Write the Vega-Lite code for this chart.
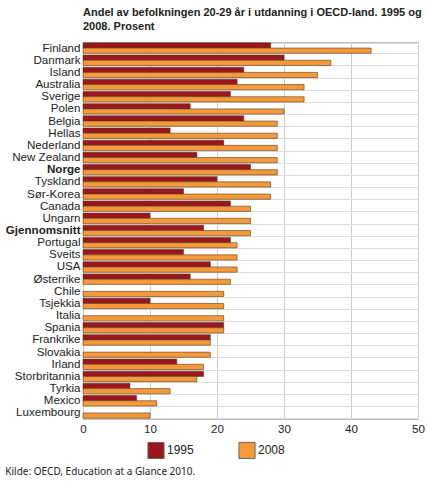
{
  "$schema": "https://vega.github.io/schema/vega-lite/v6.json",
  "padding": {"left": 4, "top": 6, "right": 6, "bottom": 0},
  "background": "white",
  "title": {
    "text": ["Andel av befolkningen 20-29 år i utdanning i OECD-land. 1995 og", "2008. Prosent"],
    "anchor": "start",
    "font": "Liberation Sans",
    "fontSize": 11,
    "fontWeight": "bold",
    "lineHeight": 14,
    "color": "#222",
    "offset": 4,
    "frame": "group"
  },
  "config": {
    "view": {"stroke": "#bbbbbb", "strokeWidth": 1},
    "font": "Liberation Sans",
    "concat": {"spacing": 0}
  },
  "vconcat": [
    {
      "width": 335,
      "height": 377,
      "title": {
        "text": "Kilde: OECD, Education at a Glance 2010.",
        "orient": "bottom",
        "anchor": "start",
        "frame": "bounds",
        "font": "Noto Sans",
        "fontSize": 10,
        "fontWeight": "normal",
        "color": "#222",
        "offset": 32
      },
      "data": {
        "values": [
          {"country": "Finland", "year": "1995", "value": 28},
          {"country": "Finland", "year": "2008", "value": 43},
          {"country": "Danmark", "year": "1995", "value": 30},
          {"country": "Danmark", "year": "2008", "value": 37},
          {"country": "Island", "year": "1995", "value": 24},
          {"country": "Island", "year": "2008", "value": 35},
          {"country": "Australia", "year": "1995", "value": 23},
          {"country": "Australia", "year": "2008", "value": 33},
          {"country": "Sverige", "year": "1995", "value": 22},
          {"country": "Sverige", "year": "2008", "value": 33},
          {"country": "Polen", "year": "1995", "value": 16},
          {"country": "Polen", "year": "2008", "value": 30},
          {"country": "Belgia", "year": "1995", "value": 24},
          {"country": "Belgia", "year": "2008", "value": 29},
          {"country": "Hellas", "year": "1995", "value": 13},
          {"country": "Hellas", "year": "2008", "value": 29},
          {"country": "Nederland", "year": "1995", "value": 21},
          {"country": "Nederland", "year": "2008", "value": 29},
          {"country": "New Zealand", "year": "1995", "value": 17},
          {"country": "New Zealand", "year": "2008", "value": 29},
          {"country": "Norge", "year": "1995", "value": 25},
          {"country": "Norge", "year": "2008", "value": 29},
          {"country": "Tyskland", "year": "1995", "value": 20},
          {"country": "Tyskland", "year": "2008", "value": 28},
          {"country": "Sør-Korea", "year": "1995", "value": 15},
          {"country": "Sør-Korea", "year": "2008", "value": 28},
          {"country": "Canada", "year": "1995", "value": 22},
          {"country": "Canada", "year": "2008", "value": 25},
          {"country": "Ungarn", "year": "1995", "value": 10},
          {"country": "Ungarn", "year": "2008", "value": 25},
          {"country": "Gjennomsnitt", "year": "1995", "value": 18},
          {"country": "Gjennomsnitt", "year": "2008", "value": 25},
          {"country": "Portugal", "year": "1995", "value": 22},
          {"country": "Portugal", "year": "2008", "value": 23},
          {"country": "Sveits", "year": "1995", "value": 15},
          {"country": "Sveits", "year": "2008", "value": 23},
          {"country": "USA", "year": "1995", "value": 19},
          {"country": "USA", "year": "2008", "value": 23},
          {"country": "Østerrike", "year": "1995", "value": 16},
          {"country": "Østerrike", "year": "2008", "value": 22},
          {"country": "Chile", "year": "2008", "value": 21},
          {"country": "Tsjekkia", "year": "1995", "value": 10},
          {"country": "Tsjekkia", "year": "2008", "value": 21},
          {"country": "Italia", "year": "2008", "value": 21},
          {"country": "Spania", "year": "1995", "value": 21},
          {"country": "Spania", "year": "2008", "value": 21},
          {"country": "Frankrike", "year": "1995", "value": 19},
          {"country": "Frankrike", "year": "2008", "value": 19},
          {"country": "Slovakia", "year": "2008", "value": 19},
          {"country": "Irland", "year": "1995", "value": 14},
          {"country": "Irland", "year": "2008", "value": 18},
          {"country": "Storbritannia", "year": "1995", "value": 18},
          {"country": "Storbritannia", "year": "2008", "value": 17},
          {"country": "Tyrkia", "year": "1995", "value": 7},
          {"country": "Tyrkia", "year": "2008", "value": 13},
          {"country": "Mexico", "year": "1995", "value": 8},
          {"country": "Mexico", "year": "2008", "value": 11},
          {"country": "Luxembourg", "year": "2008", "value": 10}
        ]
      },
      "mark": {"type": "bar", "stroke": "#5a3a22", "strokeWidth": 0.6},
      "encoding": {
        "y": {
          "field": "country",
          "type": "nominal",
          "sort": null,
          "scale": {"paddingInner": 0.14, "paddingOuter": 0.07},
          "axis": {
            "title": null,
            "ticks": false,
            "domain": false,
            "grid": true,
            "tickBand": "extent",
            "gridColor": "#dddddd",
            "gridWidth": 1,
            "labelFont": "Liberation Sans",
            "labelFontSize": 11.6,
            "labelColor": "#222",
            "labelPadding": 3,
            "labelOverlap": false,
            "labelFontWeight": {
              "condition": {"test": "datum.value === 'Norge' || datum.value === 'Gjennomsnitt'", "value": "bold"},
              "value": "normal"
            }
          }
        },
        "yOffset": {
          "field": "year",
          "type": "nominal",
          "sort": ["1995", "2008"],
          "scale": {"paddingInner": 0, "paddingOuter": 0}
        },
        "x": {
          "field": "value",
          "type": "quantitative",
          "scale": {"domain": [0, 50], "nice": false},
          "axis": {
            "title": null,
            "values": [0, 10, 20, 30, 40, 50],
            "ticks": false,
            "domain": false,
            "grid": true,
            "gridColor": "#cccccc",
            "gridWidth": 1,
            "labelFlush": false,
            "labelFont": "Liberation Sans",
            "labelFontSize": 11.6,
            "labelColor": "#222",
            "labelPadding": 4
          }
        },
        "color": {
          "field": "year",
          "type": "nominal",
          "scale": {"domain": ["1995", "2008"], "range": ["#9b161d", "#f59a3b"]},
          "legend": {
            "title": null,
            "orient": "none",
            "direction": "horizontal",
            "legendX": 64,
            "legendY": 399,
            "symbolType": "square",
            "symbolSize": 260,
            "symbolStrokeColor": "#666",
            "symbolStrokeWidth": 1,
            "symbolOpacity": 1,
            "labelFont": "Liberation Sans",
            "labelFontSize": 12,
            "labelColor": "#222",
            "labelOffset": 2,
            "columnPadding": 42
          }
        }
      }
    }
  ]
}
